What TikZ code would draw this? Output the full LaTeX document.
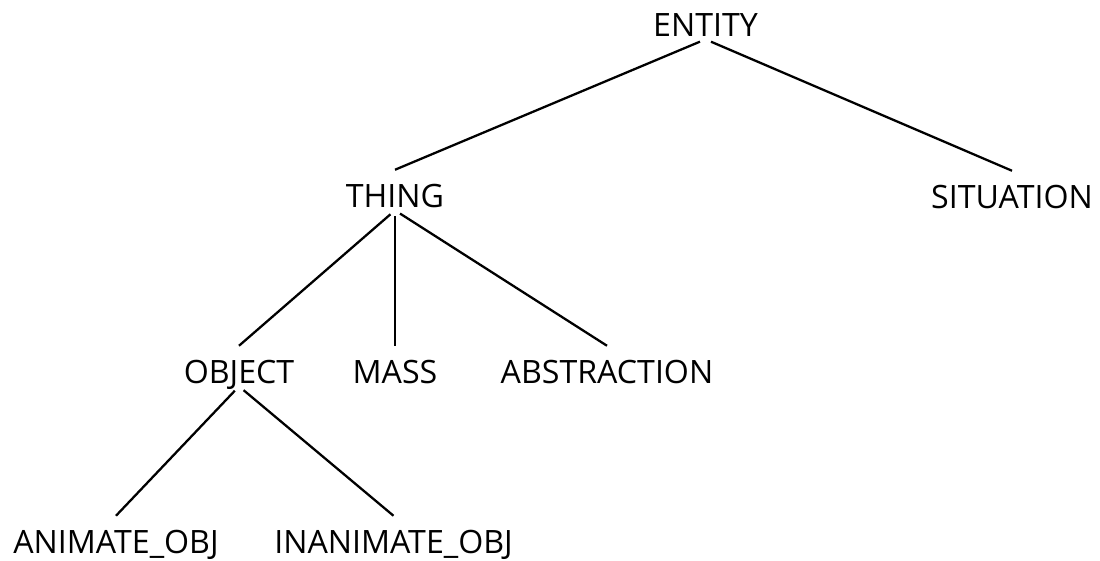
\documentclass[tikz,border=0pt]{standalone}
\usepackage{fontspec}
\setmainfont{Open Sans}
\tikzset{
	word/.style = {inner sep = 0mm, anchor = base, text height = 21pt, text depth = 1.7pt,
		font = \fontsize{18.3pt}{22pt}\selectfont},
	branch/.style = {line width = 1.3pt, shorten <= 3.4pt}
}
\begin{document}
\begin{tikzpicture}[x = 0.02cm, y = -0.02cm]
	\useasboundingbox (0, 0) rectangle (1100, 561);

	% top levels
	\node [word] (entity) at (705.5, 36) {ENTITY};
	\node [word] (thing) at (395, 207) {THING};
	\node [word] (situation) at (1012, 208) {SITUATION};

	% under thing
	\node [word] (object) at (239, 383) {OBJECT};
	\node [word] (mass) at (395, 383) {MASS};
	\node [word] (abstraction) at (607, 383) {ABSTRACTION};

	% under object
	\node [word] (animate) at (116, 553) {ANIMATE\_OBJ};
	\node [word] (inanimate) at (393.5, 553) {INANIMATE\_OBJ};

	\foreach \parent/\child in {entity/thing, entity/situation,
		thing/object, thing/mass, thing/abstraction,
		object/animate, object/inanimate}{
		\draw [branch] (\parent.south) -- (\child.north);
	}
\end{tikzpicture}
\end{document}
